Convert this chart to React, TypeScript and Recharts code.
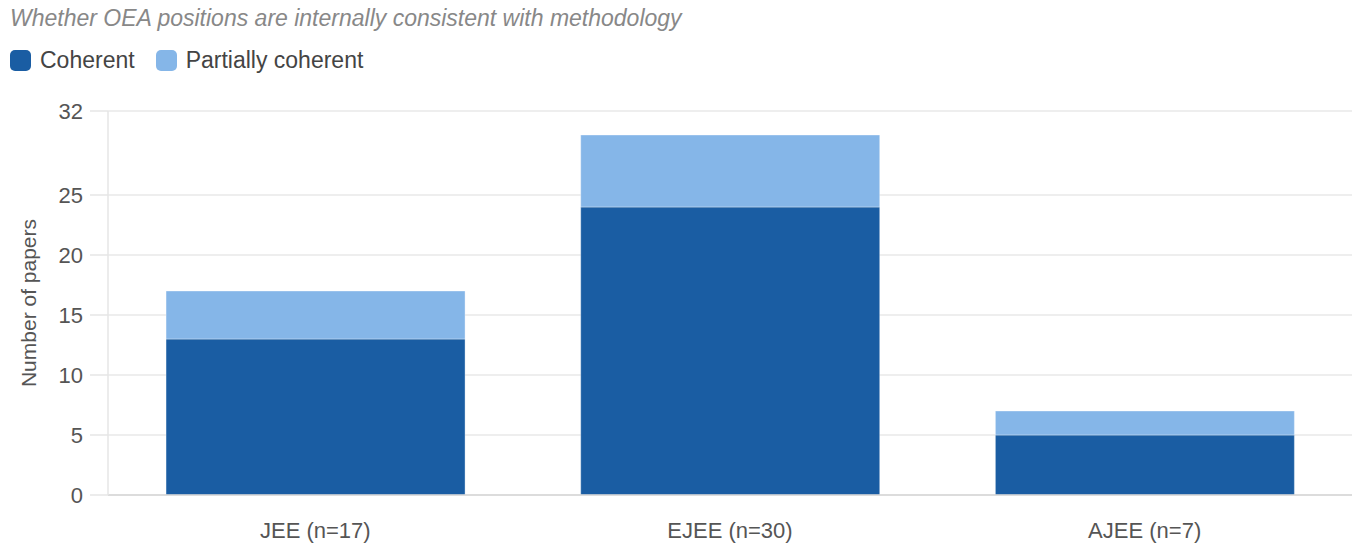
import React from 'react';
import { BarChart, Bar, XAxis, YAxis, CartesianGrid, Legend } from 'recharts';

const categories = ['JEE (n=17)', 'EJEE (n=30)', 'AJEE (n=7)'];
const coherent = [13, 24, 5];
const partiallyCoherent = [4, 6, 2];
const yTicks = [0, 5, 10, 15, 20, 25, 32];

const data = categories.map((name, i) => ({
  name,
  coherent: coherent[i],
  partial: partiallyCoherent[i],
}));

const FONT = '"Liberation Sans", Arial, sans-serif';

const LegendContent = (props: any) => {
  const { payload } = props;
  return (
    <div
      style={{
        display: 'flex',
        alignItems: 'center',
        height: 26,
        lineHeight: '23px',
        fontFamily: FONT,
        fontSize: 23,
        color: '#444',
      }}
    >
      {(payload || []).map((p: any) => (
        <div key={p.value} style={{ display: 'flex', alignItems: 'center', marginRight: 21 }}>
          <span
            style={{
              display: 'inline-block',
              width: 21,
              height: 21,
              borderRadius: 5,
              background: p.color,
              marginRight: 9,
            }}
          />
          <span>{p.value}</span>
        </div>
      ))}
    </div>
  );
};

export default function App() {
  return (
    <div style={{ position: 'absolute', left: 0, top: 0, width: 1368, height: 554, background: '#fff' }}>
      <div
        style={{
          position: 'absolute',
          left: 10,
          top: 7,
          lineHeight: '23px',
          fontFamily: FONT,
          fontStyle: 'italic',
          fontSize: 23,
          color: '#888',
          whiteSpace: 'nowrap',
        }}
      >
        Whether OEA positions are internally consistent with methodology
      </div>
      <BarChart
        width={1368}
        height={554}
        data={data}
        margin={{ top: 85, right: 16, bottom: 29, left: 0 }}
        barCategoryGap="14%"
      >
        <CartesianGrid horizontal vertical={false} stroke="#e8e8e8" strokeWidth={1.5} />
        <Legend
          verticalAlign="top"
          align="left"
          content={<LegendContent />}
          wrapperStyle={{ position: 'absolute', top: 47, left: 10, width: 700, height: 26 }}
        />
        <XAxis
          dataKey="name"
          height={30}
          tickSize={0}
          tickMargin={27}
          axisLine={{ stroke: '#d6d6d6', strokeWidth: 1.5 }}
          tick={{ fontFamily: FONT, fontSize: 22, fill: '#555' }}
        />
        <YAxis
          width={108}
          domain={[0, 32]}
          ticks={yTicks}
          interval={0}
          tickSize={18}
          tickMargin={7}
          axisLine={{ stroke: '#e6e6e6', strokeWidth: 1.5 }}
          tickLine={{ stroke: '#e6e6e6', strokeWidth: 1.5 }}
          tick={{ fontFamily: FONT, fontSize: 22, fill: '#555' }}
          label={{
            value: 'Number of papers',
            angle: -90,
            position: 'insideLeft',
            dx: 24,
            style: { fontFamily: FONT, fontSize: 21, fill: '#555', textAnchor: 'middle' },
          }}
        />
        <Bar
          dataKey="coherent"
          name="Coherent"
          stackId="a"
          fill="#1a5da3"
          stroke="#ffffff"
          strokeOpacity={0.35}
          strokeWidth={1}
          isAnimationActive={false}
        />
        <Bar
          dataKey="partial"
          name="Partially coherent"
          stackId="a"
          fill="#85b6e8"
          stroke="#ffffff"
          strokeOpacity={0.35}
          strokeWidth={1}
          isAnimationActive={false}
        />
      </BarChart>
    </div>
  );
}
